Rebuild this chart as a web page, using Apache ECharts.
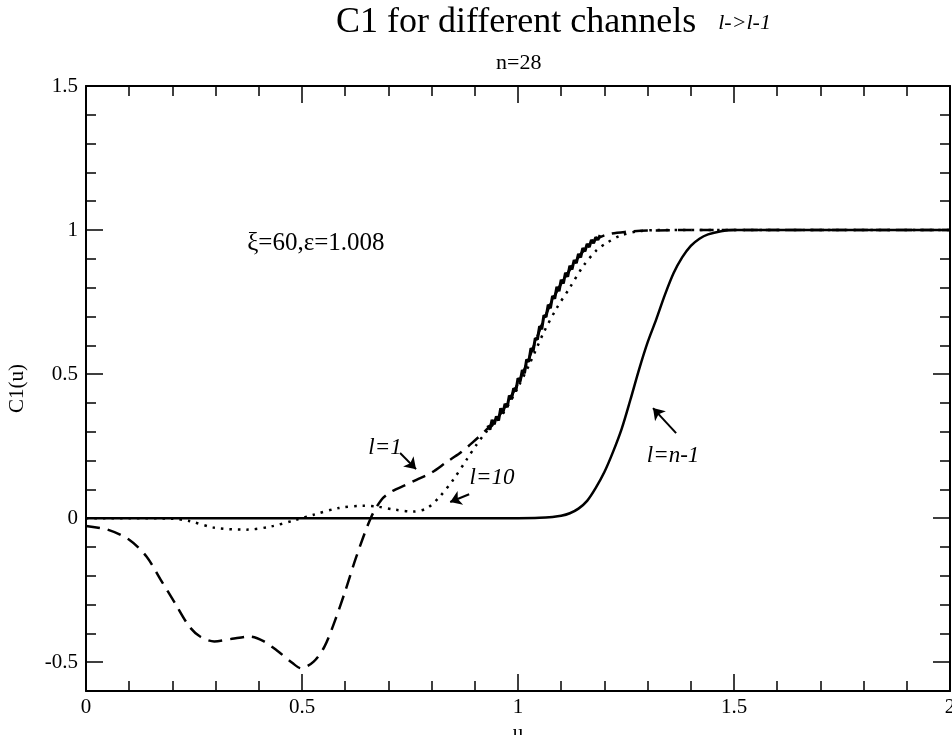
<!DOCTYPE html>
<html>
<head>
<meta charset="utf-8">
<script src="https://cdn.jsdelivr.net/npm/echarts@6/dist/echarts.min.js"></script>
<style>
  body { margin: 0; background: #fff; }
  #chart { width: 952px; height: 735px; }
</style>
</head>
<body>
<div id="chart"></div>
<script>
// l=1 channel (dashed)
var uL1 = [0, 0.05, 0.1, 0.14, 0.173, 0.206, 0.239, 0.264, 0.297, 0.338, 0.379, 0.412, 0.445, 0.478, 0.498,
  0.527, 0.552, 0.577, 0.601, 0.626, 0.659, 0.684, 0.708, 0.74, 0.765, 0.8, 0.835, 0.865, 0.889, 0.927,
  0.96, 1.0, 1.03, 1.06, 1.09, 1.12, 1.15, 1.18, 1.21, 1.25, 1.3, 1.4, 2];
var cL1 = [-0.027, -0.04, -0.075, -0.133, -0.214, -0.295, -0.376, -0.411, -0.428, -0.419, -0.411, -0.428, -0.463, -0.503, -0.521,
  -0.498, -0.446, -0.353, -0.249, -0.133, 0, 0.064, 0.093, 0.115, 0.133, 0.158, 0.195, 0.225, 0.255, 0.307,
  0.363, 0.468, 0.572, 0.69, 0.787, 0.862, 0.925, 0.967, 0.986, 0.994, 0.998, 1, 1];

// l=1 channel, jagged (noisy) stretch of the rise
var uL1Noise = [0.93, 0.935, 0.94, 0.945, 0.95, 0.955, 0.96, 0.965, 0.97, 0.975, 0.98, 0.985, 0.99, 0.995,
  1.0, 1.005, 1.01, 1.015, 1.02, 1.025, 1.03, 1.035, 1.04, 1.045, 1.05, 1.055, 1.06, 1.065, 1.07, 1.075,
  1.08, 1.085, 1.09, 1.095, 1.1, 1.105, 1.11, 1.115, 1.12, 1.125, 1.13, 1.135, 1.14, 1.145, 1.15, 1.155,
  1.16, 1.165, 1.17, 1.175, 1.18, 1.185, 1.19];
var cL1Noise = [0.322, 0.307, 0.341, 0.326, 0.353, 0.339, 0.381, 0.364, 0.397, 0.385, 0.426, 0.413, 0.451, 0.44,
  0.486, 0.474, 0.514, 0.503, 0.551, 0.543, 0.59, 0.579, 0.624, 0.62, 0.666, 0.656, 0.704, 0.698, 0.741, 0.729,
  0.771, 0.762, 0.803, 0.788, 0.827, 0.815, 0.852, 0.838, 0.876, 0.863, 0.896, 0.885, 0.917, 0.905, 0.937, 0.926,
  0.952, 0.941, 0.966, 0.954, 0.975, 0.966, 0.982];

// l=10 channel (dotted)
var uL10 = [0, 0.1, 0.2, 0.239, 0.297, 0.371, 0.428, 0.486, 0.527, 0.585, 0.642, 0.675, 0.717, 0.758, 0.79,
  0.819, 0.85, 0.881, 0.904, 0.927, 0.966, 0.997, 1.028, 1.059, 1.09, 1.12, 1.151, 1.182, 1.205, 1.236,
  1.275, 1.32, 2];
var cL10 = [0, 0, -0.002, -0.01, -0.033, -0.04, -0.029, -0.006, 0.012, 0.035, 0.043, 0.04, 0.029, 0.023, 0.035,
  0.075, 0.133, 0.203, 0.255, 0.3, 0.365, 0.446, 0.539, 0.643, 0.73, 0.8, 0.875, 0.93, 0.955, 0.98,
  0.995, 1, 1];

// l=n-1 channel (solid)
var uLn = [0, 1.0, 1.05, 1.08, 1.1, 1.12, 1.14, 1.16, 1.18, 1.2, 1.22, 1.24, 1.26, 1.28, 1.3, 1.32, 1.34,
  1.36, 1.38, 1.4, 1.42, 1.44, 1.47, 1.5, 2];
var cLn = [0, 0, 0.001, 0.004, 0.008, 0.017, 0.033, 0.06, 0.105, 0.16, 0.23, 0.31, 0.41, 0.515, 0.61, 0.69, 0.775,
  0.85, 0.905, 0.945, 0.97, 0.985, 0.996, 1, 1];

var yMajorTicks = [-0.5, 0, 0.5, 1, 1.5];
var yMinorTicks = [-0.4, -0.3, -0.2, -0.1, 0.1, 0.2, 0.3, 0.4, 0.6, 0.7, 0.8, 0.9, 1.1, 1.2, 1.3, 1.4];

function pairs(xs, ys) {
  return xs.map(function (x, i) { return [x, ys[i]]; });
}

var FONT = '"Liberation Serif", "DejaVu Serif", serif';
var black = '#000';

function xAx(pos) {
  return {
    type: 'value', position: pos, min: 0, max: 2, interval: 0.5,
    axisLine: { show: true, onZero: false, lineStyle: { color: black, width: 2 } },
    axisTick: { show: true, inside: true, length: 17, lineStyle: { color: black, width: 1.5 } },
    minorTick: { show: true, splitNumber: 5, length: 10, lineStyle: { color: black, width: 1.5 } },
    splitLine: { show: false },
    axisLabel: { show: pos === 'bottom', color: black, fontFamily: FONT, fontSize: 21, margin: 6 },
    name: pos === 'bottom' ? 'u' : '',
    nameLocation: 'middle', nameGap: 27,
    nameTextStyle: { color: black, fontFamily: FONT, fontSize: 21 }
  };
}

function yAx(pos, major) {
  return {
    type: 'value', position: pos, min: -0.6, max: 1.5,
    axisLine: { show: major, onZero: false, lineStyle: { color: black, width: 2 } },
    axisTick: {
      show: true, inside: true, length: major ? 17 : 10,
      customValues: major ? yMajorTicks : yMinorTicks,
      lineStyle: { color: black, width: 1.5 }
    },
    splitLine: { show: false },
    axisLabel: {
      show: major && pos === 'left', customValues: yMajorTicks,
      color: black, fontFamily: FONT, fontSize: 21, margin: 8
    },
    name: major && pos === 'left' ? 'C1(u)' : '',
    nameLocation: 'middle', nameRotate: 90, nameGap: 58,
    nameTextStyle: { color: black, fontFamily: FONT, fontSize: 21 }
  };
}

var arrowStyle = { type: 'solid', color: black, width: 2 };
var noteLabel = { show: true, position: 'inside', color: black, fontFamily: FONT, fontSize: 23, fontStyle: 'italic' };

var option = {
  animation: false,
  backgroundColor: '#fff',
  title: [
    {
      text: '{a|C1 for different channels}{b|    l->l-1}',
      left: 336, top: 5, padding: 0,
      textStyle: {
        rich: {
          a: { fontFamily: FONT, fontSize: 36, fontWeight: 'normal', color: black },
          b: { fontFamily: FONT, fontSize: 22, fontWeight: 'normal', fontStyle: 'italic', color: black }
        }
      }
    },
    {
      text: 'n=28', left: 496, top: 52, padding: 0,
      textStyle: { fontFamily: FONT, fontSize: 22, fontWeight: 'normal', color: black }
    }
  ],
  grid: { left: 86, right: 2, top: 86, bottom: 44, containLabel: false, outerBoundsMode: 'none' },
  xAxis: [xAx('bottom'), xAx('top')],
  yAxis: [yAx('left', true), yAx('left', false), yAx('right', true), yAx('right', false)],
  series: [
    {
      name: 'l=10', type: 'line', showSymbol: false, smooth: 0.3,
      data: pairs(uL10, cL10),
      lineStyle: { color: black, width: 2.5, type: [2.5, 6] }
    },
    {
      name: 'l=1', type: 'line', showSymbol: false, smooth: 0.3,
      data: pairs(uL1, cL1),
      lineStyle: { color: black, width: 2.5, type: [14, 8] }
    },
    {
      name: 'l=1 noise', type: 'line', showSymbol: false, smooth: false,
      data: pairs(uL1Noise, cL1Noise),
      lineStyle: { color: black, width: 3, type: 'solid' }
    },
    {
      name: 'l=n-1', type: 'line', showSymbol: false, smooth: 0.3,
      data: pairs(uLn, cLn),
      lineStyle: { color: black, width: 2.5, type: 'solid' },
      markLine: {
        silent: true, symbol: ['none', 'arrow'], symbolSize: 11,
        lineStyle: arrowStyle, label: { show: false },
        data: [
          [{ coord: [0.727, 0.226] }, { coord: [0.764, 0.17] }],
          [{ coord: [0.887, 0.083] }, { coord: [0.843, 0.056] }],
          [{ coord: [1.366, 0.295] }, { coord: [1.3125, 0.382] }]
        ]
      },
      markPoint: {
        silent: true, symbol: 'rect', symbolSize: 1,
        itemStyle: { color: 'rgba(0,0,0,0)' },
        data: [
          { coord: [0.532, 0.955], label: { show: true, position: 'inside', formatter: 'ξ=60,ε=1.008', color: black, fontFamily: FONT, fontSize: 25 } },
          { coord: [0.692, 0.243], label: Object.assign({ formatter: 'l=1' }, noteLabel) },
          { coord: [0.94, 0.139], label: Object.assign({ formatter: 'l=10' }, noteLabel) },
          { coord: [1.359, 0.215], label: Object.assign({ formatter: 'l=n-1' }, noteLabel) }
        ]
      }
    }
  ]
};

var chart = echarts.init(document.getElementById('chart'));
chart.setOption(option);
</script>
</body>
</html>
